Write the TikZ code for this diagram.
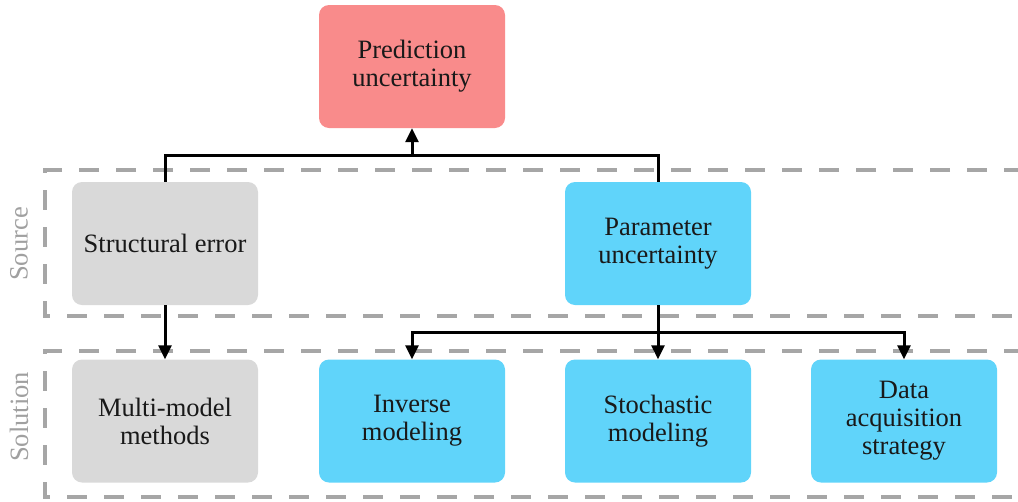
\documentclass[tikz,border=0pt]{standalone}
\usepackage{fontspec}
\setmainfont{Liberation Serif}
\usetikzlibrary{arrows.meta}
\definecolor{predfill}{HTML}{F98B8B}
\definecolor{bluefill}{HTML}{60D4FA}
\definecolor{grayfill}{HTML}{D9D9D9}
\definecolor{framegray}{HTML}{A6A6A6}
\definecolor{labelgray}{HTML}{A0A0A0}
\tikzset{
  box/.style={rounded corners=10pt, minimum width=186pt, minimum height=123pt,
    inner sep=0pt, align=center, font=\fontsize{26.5}{28}\selectfont, text=black!90},
  predbox/.style={box, fill=predfill},
  bluebox/.style={box, fill=bluefill},
  graybox/.style={box, fill=grayfill},
  frame/.style={draw=framegray, line width=4pt, dash pattern=on 20pt off 17pt},
  sidelabel/.style={rotate=90, text=labelgray, font=\fontsize{26.5}{28}\selectfont},
  conn/.style={draw=black, line width=3pt},
  arrow/.style={conn, -{Triangle[width=13pt,length=14pt]}}
}
\begin{document}
\begin{tikzpicture}[x=1pt,y=-1pt]
\useasboundingbox (0,0) rectangle (1018,501);
% dashed frames for the two rows (right side runs past the page edge)
\draw[frame] (1024,170) -- (45,170) -- (45,316) -- (1024,316);
\draw[frame] (1024,351) -- (45,351) -- (45,497) -- (1024,497);
\node[sidelabel] (srclabel) at (19,244) {Source};
\node[sidelabel] (sollabel) at (19,417) {Solution};
% boxes
\node[predbox] (pred) at (412,66.5) {Prediction\\uncertainty};
\node[graybox] (struct) at (165,243.5) {Structural error};
\node[bluebox] (param) at (658,243.5) {Parameter\\uncertainty};
\node[graybox] (multi) at (165,421) {Multi-model\\methods};
\node[bluebox] (inverse) at (412,421) {Inverse\\modeling};
\node[bluebox] (stoch) at (658,421) {Stochastic\\modeling};
\node[bluebox] (data) at (904,421) {Data\\acquisition\\strategy};
% connectors
\coordinate (topbar) at (412,155);
\coordinate (botbar) at (658,332);
\draw[conn] (struct.north) |- (topbar) -| (param.north);
\draw[arrow] (topbar) -- (pred.south);
\draw[arrow] (struct.south) -- (multi.north);
\draw[conn] (param.south) -- (botbar);
\draw[arrow] (botbar) -| (inverse.north);
\draw[arrow] (botbar) -| (data.north);
\draw[arrow] (botbar) -- (stoch.north);
\end{tikzpicture}
\end{document}
